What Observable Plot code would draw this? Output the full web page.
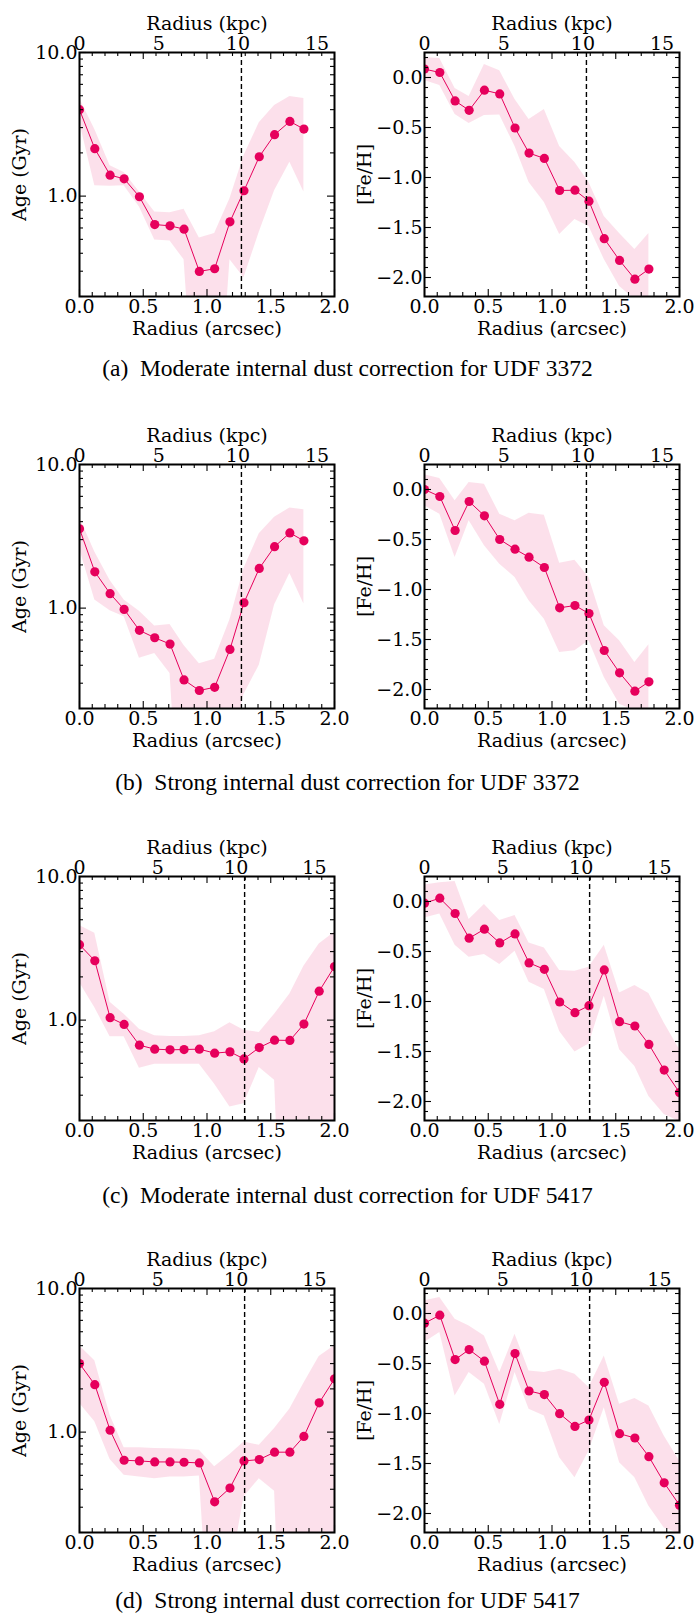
<!DOCTYPE html>
<html><head><meta charset="utf-8">
<script src="https://cdn.jsdelivr.net/npm/d3@7"></script>
<script src="https://cdn.jsdelivr.net/npm/@observablehq/plot@0.6"></script>
<style>
body{margin:0;background:#fff}
#fig{position:relative;width:695px;height:1616px;background:#fff;overflow:hidden}
.panel{position:absolute}
.panel text{font-family:"DejaVu Serif",serif !important;}
.cap{position:absolute;left:0;width:695px;text-align:center;font-family:"Liberation Serif","Times New Roman",serif;font-size:23.5px;line-height:23.5px;white-space:pre;color:#000}
</style></head><body><div id="fig"></div>
<script>
// ---------------- data ----------------
const radius3372 = [0, 0.12, 0.24, 0.35, 0.47, 0.59, 0.71, 0.82, 0.94, 1.06, 1.18, 1.29, 1.41, 1.53, 1.65, 1.76];
const radius5417 = [0, 0.12, 0.24, 0.35, 0.47, 0.59, 0.71, 0.82, 0.94, 1.06, 1.18, 1.29, 1.41, 1.53, 1.65, 1.76, 1.88, 2.0];

// (a) moderate, UDF 3372
const ageA   = [4.0, 2.14, 1.40, 1.32, 0.99, 0.634, 0.621, 0.589, 0.299, 0.312, 0.662, 1.09, 1.88, 2.68, 3.31, 2.93];
const ageAhi = [4.8, 2.91, 1.63, 1.46, 1.07, 0.776, 0.767, 0.81, 0.51, 0.55, 0.96, 1.91, 3.24, 4.27, 4.94, 4.79];
const ageAlo = [3.3, 1.18, 1.17, 1.18, 0.84, 0.494, 0.487, 0.36, 0.01, 0.01, 0.36, 0.27, 0.56, 1.09, 1.72, 1.07];
const fehA   = [0.084, 0.05, -0.234, -0.328, -0.127, -0.164, -0.505, -0.756, -0.809, -1.13, -1.127, -1.237, -1.612, -1.829, -2.017, -1.916];
const fehAhi = [0.2, 0.19, -0.11, -0.19, 0.13, 0.067, -0.22, -0.42, -0.32, -0.69, -0.85, -1.05, -1.39, -1.56, -1.72, -1.56];
const fehAlo = [-0.03, -0.08, -0.37, -0.46, -0.38, -0.375, -0.69, -1.05, -1.25, -1.57, -1.42, -1.49, -1.82, -2.09, -2.22, -2.22];

// (b) strong, UDF 3372
const ageB   = [3.57, 1.79, 1.26, 0.98, 0.70, 0.622, 0.562, 0.316, 0.267, 0.281, 0.516, 1.09, 1.89, 2.68, 3.34, 2.94];
const ageBhi = [4.3, 2.46, 1.56, 1.14, 0.95, 0.75, 0.77, 0.55, 0.41, 0.44, 0.83, 1.89, 3.3, 4.3, 4.98, 4.84];
const ageBlo = [2.6, 1.14, 0.96, 0.87, 0.447, 0.484, 0.35, 0.01, 0.01, 0.01, 0.1, 0.25, 0.4, 1.05, 1.74, 1.07];
const fehB   = [0.0, -0.07, -0.41, -0.12, -0.263, -0.50, -0.597, -0.677, -0.78, -1.183, -1.16, -1.24, -1.61, -1.833, -2.017, -1.923];
const fehBhi = [0.147, 0.11, -0.113, 0.07, 0.053, -0.247, -0.313, -0.237, -0.257, -0.737, -0.707, -0.88, -1.363, -1.513, -1.73, -1.553];
const fehBlo = [-0.163, -0.247, -0.68, -0.313, -0.563, -0.747, -0.88, -1.113, -1.297, -1.63, -1.613, -1.513, -1.88, -2.147, -2.213, -2.213];

// (c) moderate, UDF 5417
const ageC   = [3.35, 2.59, 1.04, 0.933, 0.669, 0.628, 0.621, 0.624, 0.628, 0.589, 0.601, 0.537, 0.644, 0.725, 0.722, 0.938, 1.59, 2.36];
const ageChi = [4.55, 4.02, 1.33, 1.10, 0.865, 0.778, 0.769, 0.769, 0.778, 0.83, 0.96, 0.85, 0.82, 1.1, 1.52, 2.37, 3.39, 4.09];
const ageClo = [1.83, 1.22, 0.765, 0.765, 0.463, 0.493, 0.493, 0.493, 0.493, 0.357, 0.248, 0.262, 0.467, 0.381, 0.001, 0.001, 0.001, 0.001];
const fehC   = [-0.017, 0.033, -0.12, -0.367, -0.277, -0.414, -0.324, -0.614, -0.678, -1.005, -1.112, -1.042, -0.684, -1.202, -1.245, -1.429, -1.686, -1.91];
const fehChi = [0.164, 0.187, 0.2, -0.18, -0.03, -0.19, -0.14, -0.414, -0.464, -0.69, -0.698, -0.658, -0.437, -0.915, -0.84, -0.92, -1.215, -1.48];
const fehClo = [-0.164, -0.124, -0.437, -0.557, -0.531, -0.631, -0.497, -0.808, -0.881, -1.299, -1.506, -1.426, -0.948, -1.482, -1.65, -1.95, -2.13, -2.2];

// (d) strong, UDF 5417
const ageD   = [3.0, 2.14, 1.03, 0.637, 0.63, 0.62, 0.62, 0.617, 0.61, 0.327, 0.408, 0.63, 0.644, 0.725, 0.725, 0.933, 1.6, 2.35];
const ageDhi = [4.0, 3.14, 1.31, 0.777, 0.777, 0.769, 0.765, 0.76, 0.748, 0.573, 0.698, 0.855, 0.81, 1.06, 1.45, 2.19, 3.36, 4.0];
const ageDlo = [1.59, 1.18, 0.644, 0.5, 0.487, 0.474, 0.487, 0.487, 0.495, 0.01, 0.1, 0.353, 0.474, 0.387, 0.001, 0.001, 0.001, 0.001];
const fehD   = [-0.097, -0.017, -0.461, -0.361, -0.477, -0.908, -0.401, -0.775, -0.811, -1.002, -1.129, -1.065, -0.688, -1.202, -1.245, -1.432, -1.693, -1.917];
const fehDhi = [0.127, 0.16, -0.057, -0.124, -0.224, -0.591, -0.207, -0.574, -0.591, -0.558, -0.608, -0.741, -0.424, -0.908, -0.851, -0.925, -1.225, -1.476];
const fehDlo = [-0.29, -0.19, -0.825, -0.591, -0.708, -1.109, -0.591, -0.958, -1.025, -1.442, -1.643, -1.376, -0.942, -1.492, -1.643, -1.927, -2.144, -2.2];

// effective radius (dashed line), arcsec, and kpc per arcsec
const rEff = [1.27, 1.27, 1.295, 1.295];
const kpcPerArcsec = [8.05, 8.05, 8.14, 8.14];

// tick values
const arcsecTicks = [0, 0.5, 1.0, 1.5, 2.0];
const kpcTicks = [0, 5, 10, 15];
const ageTicks = [1, 10];
const fehTicks = [0, -0.5, -1.0, -1.5, -2.0];

const captions = [
  "(a)  Moderate internal dust correction for UDF 3372",
  "(b)  Strong internal dust correction for UDF 3372",
  "(c)  Moderate internal dust correction for UDF 5417",
  "(d)  Strong internal dust correction for UDF 5417"
];
const captionBaselines = [377, 791, 1204, 1609];

// ---------------- drawing ----------------
const PINK = "#e6005c";
const MT = 52, MB = 50, ML = 79, IW = 255, IH = 244, H = MT + IH + MB;
const panelTops = [52, 464, 876, 1288];

const arcsecMinor = d3.range(1, 20).map(i => i / 10).filter(v => Math.abs(v * 2 - Math.round(v * 2)) > 1e-6);
const ageMinor = [2, 3, 4, 5, 6, 7, 8, 9].flatMap(m => [m / 10, m]).filter(v => v >= 0.2);
const fehMinor = d3.range(-21, 3).map(i => i / 10).filter(v => Math.abs(v * 2 - Math.round(v * 2)) > 1e-6);

function makePanel(radius, val, lo, hi, kind, kpa, re, width) {
  const rows = radius.map((r, i) => ({r, v: val[i], lo: lo[i], hi: hi[i]}));
  const age = kind === "age";
  const yMajor = age ? ageTicks : fehTicks;
  const yMinor = age ? ageMinor : fehMinor;
  const fmtY = age ? (d => d.toFixed(1)) : (d => d === 0 ? "0.0" : "\u2212" + Math.abs(d).toFixed(1));
  const tk = {stroke: "black", strokeWidth: 1.1};
  return Plot.plot({
    width, height: H,
    marginTop: MT, marginBottom: MB, marginLeft: ML, marginRight: width - ML - IW,
    style: {fontFamily: "'DejaVu Serif', serif", fontSize: "19px", color: "black", background: "transparent", overflow: "visible"},
    x: {domain: [0, 2]},
    y: age ? {type: "log", domain: [0.2, 10]} : {domain: [-2.19, 0.25]},
    marks: [
      Plot.areaY(rows, {x: "r", y1: "lo", y2: "hi", fill: PINK, fillOpacity: 0.12, clip: true}),
      Plot.line(rows, {x: "r", y: "v", stroke: PINK, strokeWidth: 1, clip: true}),
      Plot.dot(rows, {x: "r", y: "v", r: 4.6, fill: PINK, clip: true}),
      Plot.ruleX([re], {stroke: "black", strokeWidth: 1.4, strokeDasharray: "5,3"}),
      Plot.tickX(arcsecTicks, {x: d => d, insetTop: IH - 7, ...tk}),
      Plot.tickX(arcsecTicks, {x: d => d, insetBottom: IH - 7, ...tk}),
      Plot.tickX(arcsecMinor, {x: d => d, insetTop: IH - 4, ...tk}),
      Plot.tickX(arcsecMinor, {x: d => d, insetBottom: IH - 4, ...tk}),
      Plot.tickY(yMajor, {y: d => d, insetRight: IW - 7, ...tk}),
      Plot.tickY(yMajor, {y: d => d, insetLeft: IW - 7, ...tk}),
      Plot.tickY(yMinor, {y: d => d, insetRight: IW - 4, ...tk}),
      Plot.tickY(yMinor, {y: d => d, insetLeft: IW - 4, ...tk}),
      Plot.frame({stroke: "black", strokeWidth: 2}),
      Plot.axisX(arcsecTicks, {anchor: "bottom", tickSize: 0, tickPadding: 3, tickFormat: d => d.toFixed(1),
        label: "Radius (arcsec)", labelAnchor: "center", labelArrow: "none", labelOffset: 38}),
      Plot.axisX(kpcTicks.map(k => k / kpa), {anchor: "top", tickSize: 0, tickPadding: 3, tickFormat: d => String(Math.round(d * kpa)),
        label: "Radius (kpc)", labelAnchor: "center", labelArrow: "none", labelOffset: 36}),
      Plot.axisY(yMajor, {anchor: "left", tickSize: 0, tickPadding: 2, tickFormat: fmtY,
        label: age ? "Age (Gyr)" : "[Fe/H]", labelAnchor: "center", labelArrow: "none", labelOffset: 67})
    ]
  });
}

const fig = document.getElementById("fig");
const sets = [
  [radius3372, ageA, ageAlo, ageAhi, fehA, fehAlo, fehAhi],
  [radius3372, ageB, ageBlo, ageBhi, fehB, fehBlo, fehBhi],
  [radius5417, ageC, ageClo, ageChi, fehC, fehClo, fehChi],
  [radius5417, ageD, ageDlo, ageDhi, fehD, fehDlo, fehDhi]
];
sets.forEach((s, i) => {
  const [rad, ag, agl, agh, fe, fel, feh] = s;
  const left = makePanel(rad, ag, agl, agh, "age", kpcPerArcsec[i], rEff[i], 347);
  left.classList.add("panel");
  left.style.left = "0px"; left.style.top = (panelTops[i] - MT) + "px";
  fig.appendChild(left);
  const right = makePanel(rad, fe, fel, feh, "feh", kpcPerArcsec[i], rEff[i], 350);
  right.classList.add("panel");
  right.style.left = "345px"; right.style.top = (panelTops[i] - MT) + "px";
  fig.appendChild(right);
  const cap = document.createElement("div");
  cap.className = "cap";
  cap.textContent = captions[i];
  cap.style.top = (captionBaselines[i] - 20) + "px";
  fig.appendChild(cap);
});
</script></body></html>
